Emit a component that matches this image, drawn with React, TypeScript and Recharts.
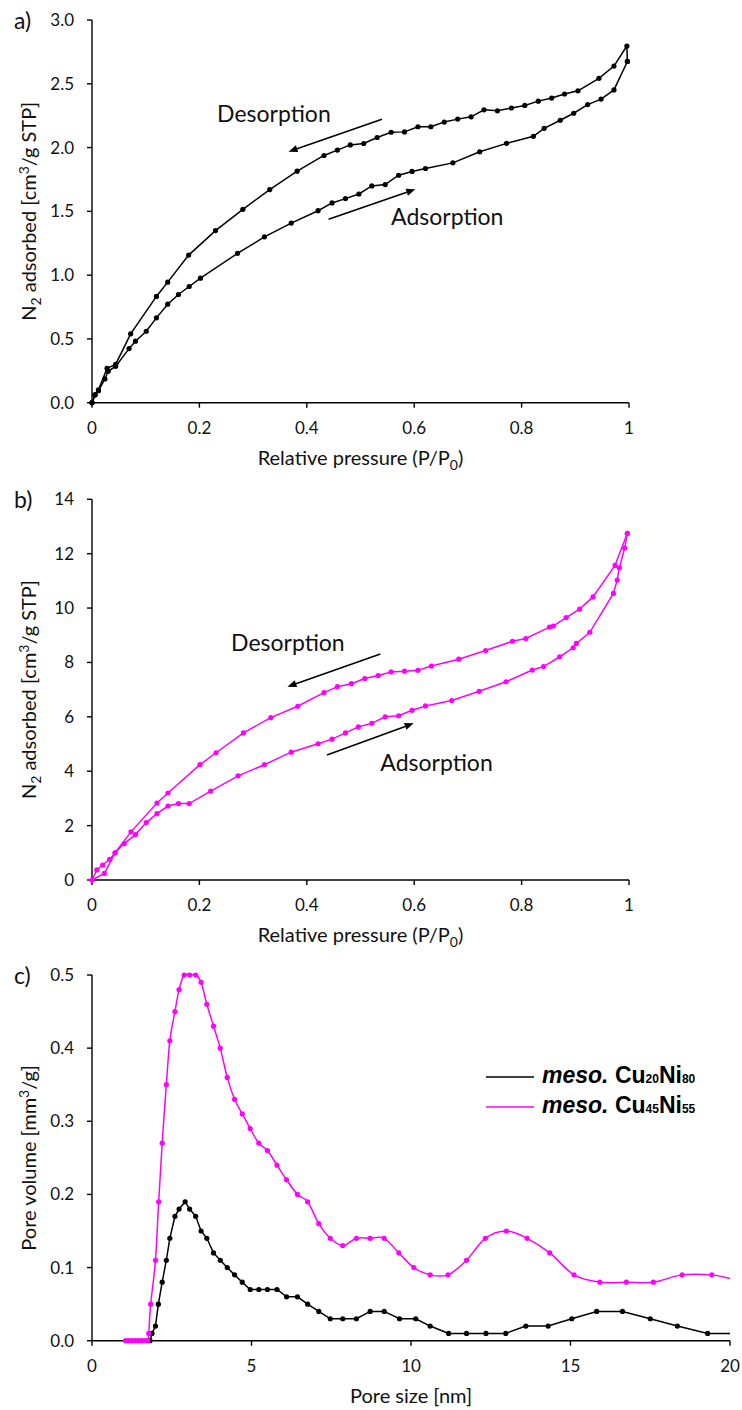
import React from 'react';
import { LineChart, Line, XAxis, YAxis, ReferenceLine, ReferenceDot, Legend } from 'recharts';

const FONT = "Lato, 'Open Sans', 'DejaVu Sans', sans-serif";
const MAGENTA = '#FF00FF';
const INK = '#111111';

// ---------- Panel a (black isotherm) ----------
const A_ADSORPTION: [number, number][] = [
  [0, 0], [0.006, 0.063], [0.012, 0.094], [0.024, 0.186], [0.03, 0.246], [0.044, 0.285],
  [0.069, 0.424], [0.081, 0.482], [0.101, 0.56], [0.12, 0.665], [0.141, 0.772], [0.161, 0.848],
  [0.181, 0.911], [0.202, 0.976], [0.271, 1.17], [0.321, 1.3], [0.371, 1.408], [0.421, 1.505],
  [0.447, 1.566], [0.472, 1.6], [0.497, 1.636], [0.521, 1.699], [0.546, 1.71], [0.571, 1.783],
  [0.596, 1.813], [0.621, 1.836], [0.672, 1.88], [0.722, 1.967], [0.772, 2.033], [0.822, 2.088],
  [0.842, 2.151], [0.872, 2.214], [0.897, 2.269], [0.923, 2.337], [0.948, 2.38], [0.972, 2.452],
  [0.997, 2.675],
];
const A_DESORPTION: [number, number][] = [
  [0.997, 2.675], [0.996, 2.796], [0.972, 2.639], [0.944, 2.543], [0.905, 2.445], [0.88, 2.42],
  [0.856, 2.388], [0.831, 2.364], [0.806, 2.33], [0.781, 2.31], [0.755, 2.288], [0.73, 2.296],
  [0.706, 2.241], [0.681, 2.223], [0.656, 2.2], [0.631, 2.163], [0.607, 2.163], [0.582, 2.123],
  [0.557, 2.12], [0.531, 2.079], [0.506, 2.032], [0.481, 2.021], [0.457, 1.98], [0.432, 1.938],
  [0.382, 1.815], [0.331, 1.671], [0.281, 1.516], [0.23, 1.349], [0.18, 1.157], [0.141, 0.945],
  [0.12, 0.833], [0.072, 0.54], [0.044, 0.3], [0.028, 0.27], [0.012, 0.1], [0.005, 0.06], [0, 0],
];

// ---------- Panel b (magenta isotherm) ----------
const B_ADSORPTION: [number, number][] = [
  [0, 0], [0.023, 0.24], [0.043, 1.0], [0.06, 1.34], [0.081, 1.67], [0.101, 2.11], [0.121, 2.44],
  [0.1415, 2.72], [0.161, 2.81], [0.181, 2.81], [0.221, 3.27], [0.272, 3.83], [0.321, 4.24],
  [0.371, 4.7], [0.421, 5.01], [0.447, 5.18], [0.472, 5.41], [0.496, 5.63], [0.521, 5.76],
  [0.546, 6.0], [0.571, 6.04], [0.596, 6.24], [0.621, 6.4], [0.67, 6.6], [0.721, 6.94],
  [0.771, 7.29], [0.82, 7.72], [0.841, 7.85], [0.871, 8.21], [0.896, 8.54], [0.902, 8.7],
  [0.927, 9.11], [0.971, 10.54], [0.978, 11.03], [0.982, 11.48], [0.992, 12.21], [0.997, 12.75],
];
const B_DESORPTION: [number, number][] = [
  [0.997, 12.75], [0.974, 11.57], [0.933, 10.41], [0.908, 9.96], [0.883, 9.65], [0.859, 9.34],
  [0.852, 9.3], [0.808, 8.88], [0.783, 8.78], [0.733, 8.44], [0.683, 8.12], [0.632, 7.87],
  [0.607, 7.71], [0.582, 7.68], [0.557, 7.65], [0.533, 7.52], [0.508, 7.41], [0.483, 7.22],
  [0.457, 7.11], [0.432, 6.89], [0.383, 6.39], [0.333, 5.97], [0.282, 5.41], [0.231, 4.68],
  [0.201, 4.24], [0.1415, 3.2], [0.121, 2.83], [0.0726, 1.77], [0.043, 1.0], [0.033, 0.76],
  [0.02, 0.55], [0.009, 0.37], [0, 0],
];

// ---------- Panel c (pore size distribution) ----------
const C_CU20NI80: [number, number][] = [
  [1.82, 0], [1.88, 0.01], [1.99, 0.02], [2.08, 0.05], [2.2, 0.08], [2.33, 0.11], [2.44, 0.14],
  [2.6, 0.17], [2.73, 0.18], [2.92, 0.19], [3.06, 0.18], [3.25, 0.17], [3.42, 0.15], [3.6, 0.14],
  [3.81, 0.12], [4.02, 0.11], [4.24, 0.1], [4.47, 0.09], [4.71, 0.08], [4.96, 0.07], [5.23, 0.07],
  [5.5, 0.07], [5.8, 0.07], [6.1, 0.06], [6.44, 0.06], [6.76, 0.05], [7.11, 0.04], [7.47, 0.03],
  [7.86, 0.03], [8.29, 0.03], [8.72, 0.04], [9.16, 0.04], [9.64, 0.03], [10.15, 0.03], [10.6, 0.02],
  [11.18, 0.01], [11.74, 0.01], [12.35, 0.01], [12.97, 0.01], [13.6, 0.02], [14.3, 0.02],
  [15.04, 0.03], [15.82, 0.04], [16.63, 0.04], [17.5, 0.03], [18.35, 0.02], [19.3, 0.01], [20, 0.01],
];
const C_CU45NI55: [number, number][] = [
  [1.05, 0], [1.15, 0], [1.25, 0], [1.35, 0], [1.45, 0], [1.55, 0], [1.65, 0], [1.75, 0],
  [1.78, 0.01], [1.84, 0.05], [1.99, 0.11], [2.09, 0.19], [2.2, 0.27], [2.33, 0.35], [2.44, 0.41],
  [2.6, 0.45], [2.73, 0.48], [2.89, 0.5], [3.06, 0.5], [3.25, 0.5], [3.42, 0.49], [3.6, 0.46],
  [3.81, 0.43], [4.02, 0.4], [4.24, 0.36], [4.47, 0.33], [4.71, 0.31], [4.96, 0.29], [5.23, 0.27],
  [5.5, 0.26], [5.8, 0.24], [6.1, 0.22], [6.44, 0.2], [6.76, 0.19], [7.11, 0.16], [7.47, 0.14],
  [7.86, 0.13], [8.29, 0.14], [8.72, 0.14], [9.16, 0.14], [9.62, 0.12], [10.09, 0.1], [10.6, 0.09],
  [11.16, 0.09], [11.74, 0.11], [12.33, 0.14], [12.99, 0.15], [13.64, 0.14], [14.35, 0.12],
  [15.11, 0.09], [15.92, 0.08], [16.75, 0.08], [17.6, 0.08], [18.5, 0.09], [19.43, 0.09], [20, 0.085],
];
const C_SERIES_NAMES = ['meso. Cu20Ni80', 'meso. Cu45Ni55'];

// ---------- ticks ----------
const PRESSURE_TICKS = [0, 0.2, 0.4, 0.6, 0.8, 1];
const A_Y_TICKS = [0, 0.5, 1, 1.5, 2, 2.5, 3];
const B_Y_TICKS = [0, 2, 4, 6, 8, 10, 12, 14];
const C_X_TICKS = [0, 5, 10, 15, 20];
const C_Y_TICKS = [0, 0.1, 0.2, 0.3, 0.4, 0.5];

// ---------- annotations (data coordinates) ----------
const A_DES_ARROW = [{ x: 0.54, y: 2.222 }, { x: 0.366, y: 1.968 }];
const A_ADS_ARROW = [{ x: 0.4406, y: 1.438 }, { x: 0.602, y: 1.673 }];
const A_DES_TEXT = { x: 0.233, y: 2.204 };
const A_ADS_TEXT = { x: 0.557, y: 1.393 };
const B_DES_ARROW = [{ x: 0.537, y: 8.31 }, { x: 0.364, y: 7.11 }];
const B_ADS_ARROW = [{ x: 0.4376, y: 4.6 }, { x: 0.599, y: 5.76 }];
const B_DES_TEXT = { x: 0.259, y: 8.43 };
const B_ADS_TEXT = { x: 0.537, y: 4.02 };

const toPts = (arr: [number, number][]) => arr.map(([x, y]) => ({ x, y }));

// Excel-like smoothed curve (Catmull-Rom style bezier)
const excelSmooth = (context: any) => {
  let pts: number[][] = [];
  return {
    areaStart() {},
    areaEnd() {},
    lineStart() { pts = []; },
    point(x: number, y: number) { pts.push([+x, +y]); },
    lineEnd() {
      const n = pts.length;
      if (!n) return;
      context.moveTo(pts[0][0], pts[0][1]);
      for (let i = 0; i < n - 1; i++) {
        const p0 = pts[i - 1] || pts[i];
        const p1 = pts[i];
        const p2 = pts[i + 1];
        const p3 = pts[i + 2] || p2;
        context.bezierCurveTo(
          p1[0] + (p2[0] - p0[0]) / 6, p1[1] + (p2[1] - p0[1]) / 6,
          p2[0] - (p3[0] - p1[0]) / 6, p2[1] - (p3[1] - p1[1]) / 6,
          p2[0], p2[1]
        );
      }
    },
  };
};

const Arrow = (props: any) => {
  const { x1, y1, x2, y2 } = props;
  const ang = Math.atan2(y2 - y1, x2 - x1);
  const L = 9, W = 3.6;
  const bx = x2 - L * Math.cos(ang), by = y2 - L * Math.sin(ang);
  const px = -Math.sin(ang) * W, py = Math.cos(ang) * W;
  return (
    <g>
      <line x1={x1} y1={y1} x2={bx} y2={by} stroke="#000" strokeWidth={1.6} />
      <polygon points={`${x2},${y2} ${bx + px},${by + py} ${bx - px},${by - py}`} fill="#000" />
    </g>
  );
};

const makeText = (text: string) => (p: any) => (
  <text x={p.cx} y={p.cy} fontSize={23} fontFamily={FONT} fill={INK}>{text}</text>
);

const XTitle = (props: any) => {
  const vb = props.viewBox || {};
  const cx = (vb.x || 0) + (vb.width || 0) / 2;
  const y = (vb.y || 0) + 62;
  return (
    <text x={cx} y={y} textAnchor="middle" fontSize={20} fontFamily={FONT} fill={INK}>
      {props.children}
    </text>
  );
};

const YTitle = (props: any) => {
  const vb = props.viewBox || {};
  const cy = (vb.y || 0) + (vb.height || 0) / 2;
  const x = 36;
  return (
    <text x={x} y={cy} transform={`rotate(-90 ${x} ${cy})`} textAnchor="middle" fontSize={20} fontFamily={FONT} fill={INK}>
      {props.children}
    </text>
  );
};

const axisLine = { stroke: '#000', strokeWidth: 1.4 };
const tickStyle = { fill: INK, fontSize: 17, fontFamily: FONT };

const pressureTitle = (
  <XTitle>
    <tspan>Relative pressure (P/P</tspan>
    <tspan dy={5} fontSize={14}>0</tspan>
    <tspan dy={-5}>)</tspan>
  </XTitle>
);
const n2Title = (
  <YTitle>
    <tspan>N</tspan>
    <tspan dy={5} fontSize={14}>2</tspan>
    <tspan dy={-5}> adsorbed [cm</tspan>
    <tspan dy={-7} fontSize={14}>3</tspan>
    <tspan dy={7}>/g STP]</tspan>
  </YTitle>
);

const fmtP = (v: number) => (v === 0 || v === 1 ? String(v) : v.toFixed(1));

const LegendContent = (props: any) => {
  const payload = props.payload || [];
  return (
    <div style={{ fontFamily: "'Liberation Sans', Arial, sans-serif", fontWeight: 700, fontSize: 23, color: '#000' }}>
      {payload.map((e: any, i: number) => {
        const name: string = e.value;
        const pre = name.split(' ')[0];
        const rest = name.split(' ').slice(1).join(' ');
        const tokens = rest.match(/[A-Za-z]+|\d+/g) || [];
        return (
          <div key={i} style={{ display: 'flex', alignItems: 'center', height: 30 }}>
            <svg width={56} height={30} style={{ flex: 'none' }}>
              <line x1={0} y1={15} x2={48} y2={15} stroke={e.color} strokeWidth={1.6} />
            </svg>
            <span style={{ whiteSpace: 'nowrap', lineHeight: '30px' }}>
              <i>{pre}</i>{' '}
              {tokens.map((t, k) => (/\d/.test(t)
                ? <span key={k} style={{ fontSize: 12 }}>{t}</span>
                : <span key={k}>{t}</span>))}
            </span>
          </div>
        );
      })}
    </div>
  );
};

const dotStyle = (c: string) => ({ r: 2.6, fill: c, stroke: c, strokeWidth: 0 });

// dots for panel c: no marker drawn on the point that sits on the right frame edge
const edgeDot = (c: string) => (p: any) => {
  const key = `d-${p.index}`;
  if (p.payload && p.payload.x >= 20) return <g key={key} />;
  return <circle key={key} cx={p.cx} cy={p.cy} r={2.6} fill={c} />;
};

export default function App() {
  return (
    <div style={{ position: 'absolute', left: 0, top: 0, width: 742, height: 1410, background: '#fff', overflow: 'hidden' }}>
      {/* Panel a */}
      <div style={{ position: 'absolute', left: 0, top: 0 }}>
        <LineChart width={742} height={478} margin={{ top: 20, right: 113, bottom: 0, left: 0 }}>
          <XAxis type="number" dataKey="x" domain={[0, 1]} ticks={PRESSURE_TICKS} interval={0} tickFormatter={fmtP}
            axisLine={axisLine} tickLine={axisLine} tickSize={5} tickMargin={14} tick={tickStyle} height={75.3}
            label={pressureTitle} />
          <YAxis type="number" domain={[0, 3]} ticks={A_Y_TICKS} interval={0} tickFormatter={(v: number) => v.toFixed(1)}
            axisLine={axisLine} tickLine={axisLine} tickSize={5} tickMargin={13} tick={tickStyle} width={92}
            label={n2Title} />
          <Line data={toPts(A_ADSORPTION)} dataKey="y" name="Adsorption" stroke="#000" strokeWidth={1.5}
            dot={dotStyle('#000')} activeDot={false} isAnimationActive={false} />
          <Line data={toPts(A_DESORPTION)} dataKey="y" name="Desorption" stroke="#000" strokeWidth={1.5}
            dot={dotStyle('#000')} activeDot={false} isAnimationActive={false} />
          <ReferenceLine segment={A_DES_ARROW} shape={Arrow} />
          <ReferenceLine segment={A_ADS_ARROW} shape={Arrow} />
          <ReferenceDot x={A_DES_TEXT.x} y={A_DES_TEXT.y} shape={makeText('Desorption')} />
          <ReferenceDot x={A_ADS_TEXT.x} y={A_ADS_TEXT.y} shape={makeText('Adsorption')} />
        </LineChart>
      </div>

      {/* Panel b */}
      <div style={{ position: 'absolute', left: 0, top: 478 }}>
        <LineChart width={742} height={472} margin={{ top: 21.3, right: 113, bottom: 0, left: 0 }}>
          <XAxis type="number" dataKey="x" domain={[0, 1]} ticks={PRESSURE_TICKS} interval={0} tickFormatter={fmtP}
            axisLine={axisLine} tickLine={axisLine} tickSize={5} tickMargin={14} tick={tickStyle} height={70}
            label={pressureTitle} />
          <YAxis type="number" domain={[0, 14]} ticks={B_Y_TICKS} interval={0}
            axisLine={axisLine} tickLine={axisLine} tickSize={5} tickMargin={13} tick={tickStyle} width={92}
            label={n2Title} />
          <Line data={toPts(B_ADSORPTION)} dataKey="y" name="Adsorption" stroke={MAGENTA} strokeWidth={1.5}
            dot={dotStyle(MAGENTA)} activeDot={false} isAnimationActive={false} />
          <Line data={toPts(B_DESORPTION)} dataKey="y" name="Desorption" stroke={MAGENTA} strokeWidth={1.5}
            dot={dotStyle(MAGENTA)} activeDot={false} isAnimationActive={false} />
          <ReferenceLine segment={B_DES_ARROW} shape={Arrow} />
          <ReferenceLine segment={B_ADS_ARROW} shape={Arrow} />
          <ReferenceDot x={B_DES_TEXT.x} y={B_DES_TEXT.y} shape={makeText('Desorption')} />
          <ReferenceDot x={B_ADS_TEXT.x} y={B_ADS_TEXT.y} shape={makeText('Adsorption')} />
        </LineChart>
      </div>

      {/* Panel c */}
      <div style={{ position: 'absolute', left: 0, top: 950 }}>
        <LineChart width={742} height={460} margin={{ top: 25, right: 12, bottom: 0, left: 0 }}>
          <XAxis type="number" dataKey="x" domain={[0, 20]} ticks={C_X_TICKS} interval={0}
            axisLine={axisLine} tickLine={axisLine} tickSize={5} tickMargin={14} tick={tickStyle} height={69.3}
            label={<XTitle>Pore size [nm]</XTitle>} />
          <YAxis type="number" domain={[0, 0.5]} ticks={C_Y_TICKS} interval={0} tickFormatter={(v: number) => v.toFixed(1)}
            axisLine={axisLine} tickLine={axisLine} tickSize={5} tickMargin={13} tick={tickStyle} width={92}
            label={<YTitle><tspan>Pore volume [mm</tspan><tspan dy={-7} fontSize={14}>3</tspan><tspan dy={7}>/g]</tspan></YTitle>} />
          <Legend layout="vertical" align="center" verticalAlign="middle" content={<LegendContent />}
            wrapperStyle={{ left: 486, top: 111.7, width: 256 }} />
          <Line data={toPts(C_CU20NI80)} dataKey="y" name={C_SERIES_NAMES[0]} stroke="#000" strokeWidth={1.5}
            dot={edgeDot('#000')} activeDot={false} isAnimationActive={false} />
          <Line data={toPts(C_CU45NI55)} dataKey="y" name={C_SERIES_NAMES[1]} stroke={MAGENTA} strokeWidth={1.5}
            type={excelSmooth as any} dot={edgeDot(MAGENTA)} activeDot={false} isAnimationActive={false} />
        </LineChart>
      </div>

      {/* panel letters */}
      <svg width={742} height={1410} style={{ position: 'absolute', left: 0, top: 0, pointerEvents: 'none' }}>
        <text x={14} y={29} fontSize={23} fontFamily={FONT} fill={INK}>a)</text>
        <text x={14} y={508} fontSize={23} fontFamily={FONT} fill={INK}>b)</text>
        <text x={14} y={984} fontSize={23} fontFamily={FONT} fill={INK}>c)</text>
      </svg>
    </div>
  );
}
